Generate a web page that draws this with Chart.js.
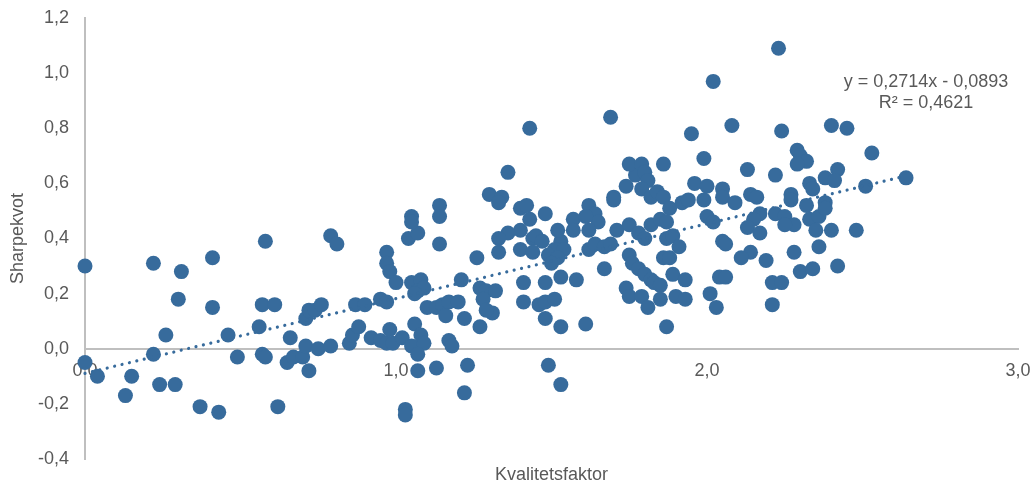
<!DOCTYPE html>
<html lang="sv">
<head>
<meta charset="utf-8">
<title>Sharpekvot mot kvalitetsfaktor</title>
<script src="https://cdn.jsdelivr.net/npm/chart.js@4.4.1/dist/chart.umd.min.js"></script>
<style>
  html, body { margin: 0; padding: 0; background: #ffffff; }
  #wrap { position: relative; width: 1032px; height: 484px; }
</style>
</head>
<body>
<div id="wrap"><canvas id="chart" width="1032" height="484"></canvas></div>
<script>
// Kvalitetsfaktor (x) per fond
const kvalitet = [
  0.00, 0.00, 0.04, 0.13, 0.15, 0.22, 0.22, 0.26, 0.24, 0.29, 0.31, 0.30, 0.37, 0.41, 0.41, 0.43,
  0.46, 0.49, 0.56, 0.57, 0.58, 0.57, 0.58, 0.61, 0.62, 0.66, 0.65, 0.67, 0.70, 0.71, 0.71, 0.72,
  0.74, 0.76, 0.72, 0.75, 0.79, 0.79, 0.81, 0.85, 0.86, 0.88, 0.87, 0.90,
  0.95, 0.97, 0.92, 0.95, 0.97, 0.99, 1.02, 0.98, 1.06, 1.08, 1.05, 1.09, 1.07, 1.17, 1.18, 1.07,
  1.13, 1.23, 1.22, 1.03, 1.03, 0.97, 0.97, 0.98, 1.00, 1.04, 1.07, 1.14, 1.05, 1.08, 1.07, 1.09,
  1.06, 1.05, 1.05, 1.14, 1.14, 1.10, 1.13, 1.15, 1.17, 1.20, 1.16, 1.22, 1.21, 1.26, 1.27, 1.29,
  1.28, 1.31, 1.29, 1.27, 1.32,
  1.43, 1.36, 1.30, 1.34, 1.33, 1.40, 1.42, 1.43, 1.48, 1.40, 1.36, 1.33, 1.33, 1.40, 1.44, 1.44,
  1.41, 1.41, 1.48, 1.46, 1.48, 1.51, 1.48, 1.53, 1.49, 1.53, 1.45, 1.47, 1.53, 1.51, 1.54, 1.49,
  1.52, 1.50, 1.53, 1.52, 1.57, 1.57, 1.62, 1.64, 1.65, 1.62, 1.69, 1.70, 1.70, 1.71, 1.58, 1.67,
  1.61, 1.62, 1.64, 1.67, 1.69, 1.61, 1.77,
  1.75, 1.79, 1.80, 1.81, 1.86, 1.74, 1.79, 1.82, 1.84, 1.86, 1.88, 1.75, 1.78, 1.80, 1.82, 1.85,
  1.87, 1.87, 1.89, 1.91, 1.92, 1.94, 1.96, 1.95, 1.75, 1.76, 1.78, 1.80, 1.82, 1.83, 1.86, 1.88,
  1.89, 1.93, 1.85, 1.85, 1.74, 1.75, 1.79, 1.81, 1.90, 1.93, 1.87, 1.99, 2.00, 2.02, 2.00, 2.05,
  2.05, 2.09, 2.05, 2.06,
  2.23, 2.02, 2.08, 2.24, 2.40, 2.45, 2.53, 2.29, 2.30, 2.32, 2.29, 1.99, 2.13, 2.22, 2.42, 2.38,
  2.41, 2.64, 2.51, 2.14, 2.16, 2.27, 2.33, 2.34, 2.38, 2.32, 2.22, 2.25, 2.17, 2.15, 2.33, 2.36,
  2.13, 2.17, 2.28, 2.35, 2.40, 2.48, 2.27, 2.38, 2.25, 2.14, 2.11, 2.19, 2.28, 2.36, 2.30, 2.34,
  2.42, 2.04, 2.06, 2.01, 2.03, 2.21, 2.24, 2.21
];

// Sharpekvot (y) per fond, samma ordning som ovan
const sharpe = [
  0.30, -0.05, -0.10, -0.17, -0.10, 0.31, -0.02, 0.05, -0.13, -0.13, 0.28, 0.18, -0.21, 0.33, 0.15, -0.23,
  0.05, -0.03, 0.08, 0.16, 0.39, -0.02, -0.03, 0.16, -0.21, 0.04, -0.05, -0.03, -0.03, 0.01, 0.11, 0.14,
  0.14, 0.16, -0.08, 0.00, 0.01, 0.41, 0.38, 0.02, 0.05, 0.08, 0.16, 0.16,
  0.18, 0.17, 0.04, 0.03, 0.02, 0.02, 0.04, 0.07, 0.09, 0.05, 0.01, 0.02, -0.02, 0.03, 0.01, -0.08,
  -0.07, -0.06, -0.16, -0.22, -0.24, 0.35, 0.31, 0.28, 0.24, 0.40, 0.42, 0.38, 0.24, 0.25, 0.21, 0.22,
  0.20, 0.48, 0.46, 0.52, 0.48, 0.15, 0.15, 0.16, 0.17, 0.17, 0.12, 0.11, 0.25, 0.33, 0.22, 0.21,
  0.18, 0.13, 0.14, 0.08, 0.21,
  0.80, 0.64, 0.56, 0.55, 0.53, 0.51, 0.52, 0.47, 0.49, 0.43, 0.42, 0.40, 0.35, 0.36, 0.40, 0.35,
  0.24, 0.17, 0.24, 0.16, 0.17, 0.18, 0.11, 0.08, -0.06, -0.13, 0.41, 0.39, 0.39, 0.36, 0.36, 0.34,
  0.33, 0.31, 0.26, 0.43, 0.47, 0.43, 0.52, 0.49, 0.46, 0.43, 0.84, 0.55, 0.54, 0.43, 0.25, 0.29,
  0.09, 0.36, 0.38, 0.37, 0.38, 0.48, 0.63,
  0.67, 0.67, 0.64, 0.61, 0.67, 0.59, 0.58, 0.55, 0.57, 0.55, 0.51, 0.45, 0.42, 0.40, 0.45, 0.47,
  0.46, 0.40, 0.41, 0.37, 0.53, 0.54, 0.60, 0.78, 0.34, 0.31, 0.29, 0.27, 0.25, 0.24, 0.33, 0.33,
  0.27, 0.25, 0.23, 0.18, 0.22, 0.19, 0.19, 0.15, 0.19, 0.18, 0.08, 0.54, 0.48, 0.46, 0.59, 0.58,
  0.55, 0.53, 0.39, 0.38,
  1.09, 0.97, 0.81, 0.79, 0.81, 0.80, 0.71, 0.72, 0.70, 0.68, 0.67, 0.69, 0.65, 0.63, 0.65, 0.62,
  0.61, 0.62, 0.59, 0.56, 0.55, 0.56, 0.60, 0.58, 0.53, 0.52, 0.49, 0.48, 0.49, 0.47, 0.47, 0.48,
  0.44, 0.42, 0.45, 0.43, 0.43, 0.43, 0.54, 0.51, 0.45, 0.35, 0.33, 0.32, 0.35, 0.37, 0.28, 0.29,
  0.30, 0.26, 0.26, 0.20, 0.15, 0.24, 0.24, 0.16
];

// Axelgränser och tickavstånd
const xRange = [0, 3];
const xStep = 1;
const yRange = [-0.4, 1.2];
const yStep = 0.2;

// Linjär trendlinje (minsta kvadrat) och förklaringsgrad
const trendSlope = 0.2714;
const trendIntercept = -0.0893;
const rSquared = 0.4621;

const markerBlue = '#376b9c';
const textGrey = '#595959';
const axisGrey = '#bfbfbf';
const fontStack = '"Liberation Sans", Arial, Helvetica, sans-serif';

const comma = (v, d) => Number(v).toFixed(d).replace('.', ',');

const points = kvalitet.map((x, i) => ({ x: x, y: sharpe[i] }));
const xMin = Math.min(...kvalitet);
const xMax = Math.max(...kvalitet);
const trendPoints = [xMin, xMax].map(x => ({ x: x, y: trendSlope * x + trendIntercept }));

const equationLines = [
  'y = ' + comma(trendSlope, 4) + 'x ' + (trendIntercept < 0 ? '- ' : '+ ') + comma(Math.abs(trendIntercept), 4),
  'R² = ' + comma(rSquared, 4)
];

// Skriver regressionsekvationen ovanför trendlinjens slut
const equationLabel = {
  id: 'equationLabel',
  afterDatasetsDraw(chart, args, opts) {
    const { ctx, chartArea } = chart;
    ctx.save();
    ctx.font = '18px ' + fontStack;
    ctx.fillStyle = textGrey;
    ctx.textAlign = 'center';
    ctx.textBaseline = 'middle';
    const cx = chartArea.right - opts.offsetRight;
    equationLines.forEach((line, i) => {
      ctx.fillText(line, cx, chartArea.top + opts.offsetTop + i * opts.lineGap);
    });
    ctx.restore();
  }
};

Chart.defaults.font.family = fontStack;
Chart.defaults.font.size = 18;
Chart.defaults.color = textGrey;

new Chart(document.getElementById('chart'), {
  type: 'scatter',
  data: {
    datasets: [
      {
        type: 'line',
        label: 'Linjär trend',
        data: trendPoints,
        borderColor: markerBlue,
        borderWidth: 3.2,
        borderDash: [0.01, 7.6],
        borderCapStyle: 'round',
        pointRadius: 0,
        fill: false,
        tension: 0,
        clip: false,
        order: 0
      },
      {
        label: 'Fonder',
        data: points,
        backgroundColor: markerBlue,
        borderColor: markerBlue,
        borderWidth: 0,
        pointRadius: 7.5,
        pointHoverRadius: 7.5,
        clip: false,
        order: 1
      }
    ]
  },
  options: {
    responsive: false,
    animation: false,
    events: [],
    layout: { padding: { left: 0, right: 14, top: 18, bottom: 0 } },
    scales: {
      x: {
        type: 'linear',
        position: { y: 0 },
        min: xRange[0],
        max: xRange[1],
        grid: { display: false, drawTicks: false },
        border: { display: true, color: axisGrey, width: 2 },
        ticks: {
          stepSize: xStep,
          padding: 11,
          color: textGrey,
          callback: v => comma(v, 1)
        },
        // tick labels may overhang the plot edges
        afterFit(scale) { scale.paddingLeft = 0; scale.paddingRight = 0; }
      },
      y: {
        type: 'linear',
        position: 'left',
        min: yRange[0],
        max: yRange[1],
        grid: { display: false, drawTicks: false },
        border: { display: true, color: axisGrey, width: 2 },
        ticks: {
          stepSize: yStep,
          padding: 16,
          color: textGrey,
          callback: v => comma(v, 1)
        },
        title: {
          display: true,
          text: 'Sharpekvot',
          color: textGrey,
          font: { size: 18, lineHeight: 1.2 },
          padding: { top: 7, bottom: 0 }
        },
        afterFit(scale) {
          scale.width = 85;
          scale.paddingTop = 0;
          scale.paddingBottom = 0;
        }
      }
    },
    plugins: {
      legend: { display: false },
      tooltip: { enabled: false },
      title: {
        display: true,
        text: 'Kvalitetsfaktor',
        position: 'bottom',
        fullSize: false,
        color: textGrey,
        font: { size: 18, weight: 'normal', lineHeight: 1 },
        padding: { top: 7, bottom: 0 }
      },
      equationLabel: { offsetRight: 92, offsetTop: 64, lineGap: 21 }
    }
  },
  plugins: [equationLabel]
});
</script>
</body>
</html>
